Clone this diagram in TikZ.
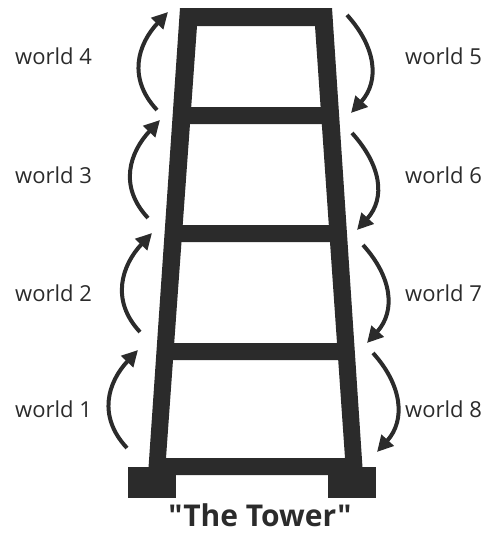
\documentclass[tikz,border=0pt]{standalone}
\usepackage{fontspec}
\setmainfont{Open Sans}
\newfontfamily\titlefont{Open Sans}
\usetikzlibrary{arrows.meta}
\definecolor{ink}{HTML}{2B2B2B}
\tikzset{
  lbl/.style={anchor=base west, inner sep=0pt, text=ink, font=\fontsize{22}{24}\selectfont},
  warr/.style={draw=ink, line width=4pt, -{Triangle[length=16pt,width=16pt]}},
  title/.style={anchor=base, inner sep=0pt, text=ink, font=\titlefont\fontsize{30}{32}\selectfont\bfseries}
}
\begin{document}
\begin{tikzpicture}[x=1pt,y=-1pt]
\useasboundingbox (0,0) rectangle (490,533);
% ladder
\fill[ink, even odd rule] (180,8) -- (332,8) -- (363,475) -- (148,475) -- cycle
  (197,26) -- (315,26) -- (320.6,107) -- (191.2,107) -- cycle
  (190,124) -- (321.8,124) -- (328.8,225) -- (182.7,225) -- cycle
  (181.5,242) -- (330,242) -- (337,343) -- (174.2,343) -- cycle
  (173,360) -- (338.2,360) -- (345,458) -- (166,458) -- cycle;
\fill[ink] (128,467) rectangle (176,498);
\fill[ink] (328,467) rectangle (376,498);
% labels
\node[lbl] (w4) at (15,64) {world 4};
\node[lbl] (w3) at (15,183) {world 3};
\node[lbl] (w2) at (15,301) {world 2};
\node[lbl] (w1) at (15,417) {world 1};
\node[lbl] (w5) at (405,64) {world 5};
\node[lbl] (w6) at (405,183) {world 6};
\node[lbl] (w7) at (405,301) {world 7};
\node[lbl] (w8) at (405,417) {world 8};
\node[title] (t) at (260,526) {"The Tower"};
% arrow end points
\coordinate (t4) at (157,110); \coordinate (h4) at (168,12);
\coordinate (t3) at (148,218); \coordinate (h3) at (160,120);
\coordinate (t2) at (140,332); \coordinate (h2) at (152,233);
\coordinate (t1) at (127,448); \coordinate (h1) at (138,350);
\coordinate (t5) at (347,15);  \coordinate (h5) at (351,113);
\coordinate (t6) at (352,133); \coordinate (h6) at (357,230);
\coordinate (t7) at (363,245); \coordinate (h7) at (367,343);
\coordinate (t8) at (373,353); \coordinate (h8) at (377,452);
\foreach \i in {1,2,3,4}{
  \draw[warr] (t\i) .. controls ([shift={(-30,-32)}]t\i) and ([shift={(-30,32)}]h\i) .. (h\i);
}
\foreach \i in {5,6,7,8}{
  \draw[warr] (t\i) .. controls ([shift={(29,32)}]t\i) and ([shift={(29,-32)}]h\i) .. (h\i);
}
\end{tikzpicture}
\end{document}
